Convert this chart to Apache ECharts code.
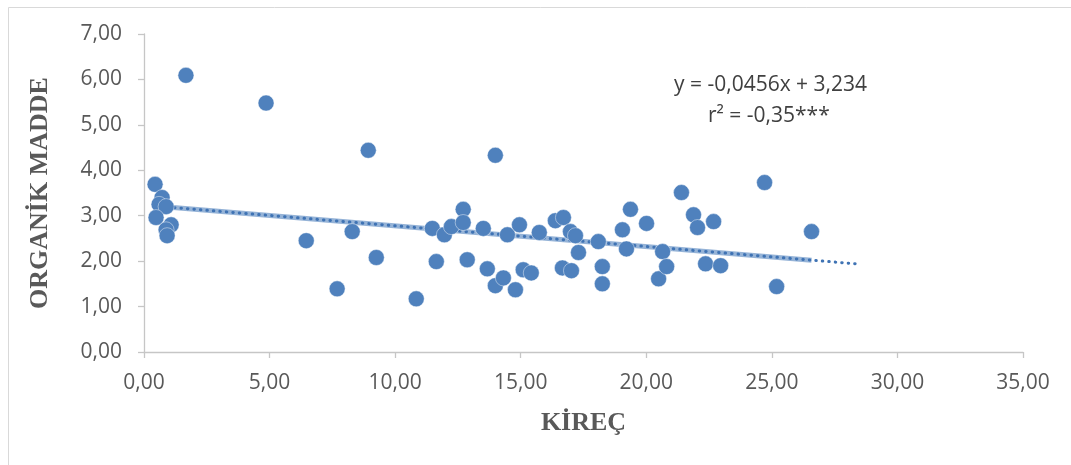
<!DOCTYPE html>
<html>
<head>
<meta charset="utf-8">
<script src="https://cdn.jsdelivr.net/npm/echarts@6/dist/echarts.min.js"></script>
<style>
html,body{margin:0;padding:0;background:#fff;}
#c{width:1071px;height:465px;}
</style>
</head>
<body>
<div id="c"></div>
<script>
// Data
const kirec = [1.67, 4.86, 8.93, 13.99, 0.44, 0.72, 0.60, 0.88, 0.48, 1.08, 0.88, 0.92,
  6.46, 8.29, 9.25, 7.69, 10.84, 11.48, 11.64, 11.96, 12.24, 12.71, 12.71, 12.87,
  13.51, 13.67, 13.99, 14.31, 14.47, 14.79, 14.95, 15.10, 15.42, 15.74, 16.38, 16.70,
  16.66, 16.98, 17.02, 17.18, 17.30, 18.09, 18.25, 18.25, 19.05, 19.21, 19.37, 20.01,
  20.49, 20.65, 20.81, 21.40, 21.88, 22.04, 22.36, 22.68, 22.96, 24.71, 25.19, 26.58];
const organikMadde = [6.09, 5.48, 4.44, 4.33, 3.69, 3.40, 3.25, 3.20, 2.96, 2.80, 2.69, 2.56,
  2.45, 2.65, 2.08, 1.39, 1.17, 2.72, 1.99, 2.58, 2.76, 3.14, 2.85, 2.03,
  2.72, 1.83, 1.46, 1.63, 2.58, 1.37, 2.80, 1.81, 1.74, 2.63, 2.89, 2.96,
  1.85, 2.65, 1.79, 2.56, 2.19, 2.43, 1.88, 1.50, 2.69, 2.27, 3.14, 2.83,
  1.61, 2.21, 1.88, 3.51, 3.02, 2.74, 1.94, 2.87, 1.90, 3.73, 1.44, 2.65];
const slope = -0.0456;
const intercept = 3.234;
const trendForwardTo = 28.5;
const xTicks = [0, 35, 5];
const yTicks = [0, 7, 1];
const equationText = 'y = -0,0456x + 3,234';
const r2Text = 'r² = -0,35***';
const xTitle = 'KİREÇ';
const yTitle = 'ORGANİK MADDE';

const points = kirec.map((x, i) => [x, organikMadde[i]]);
const xMin = Math.min(...kirec), xMax = Math.max(...kirec);
const trendSolid = [[xMin, slope * xMin + intercept], [xMax, slope * xMax + intercept]];
const trendDots = [[xMin, slope * xMin + intercept], [trendForwardTo, slope * trendForwardTo + intercept]];
const fmt = v => v.toFixed(2).replace('.', ',');

const chart = echarts.init(document.getElementById('c'), null, {renderer: 'canvas'});
const labelFont = '"Open Sans", sans-serif';
chart.setOption({
  animation: false,
  backgroundColor: '#fff',
  grid: {left: 144, right: 48, top: 34, bottom: 113, containLabel: false},
  xAxis: {
    type: 'value', min: xTicks[0], max: xTicks[1], interval: xTicks[2],
    splitLine: {show: false},
    axisLine: {show: true, lineStyle: {color: '#C6C6C6', width: 1.3}},
    axisTick: {show: true, inside: false, length: 6, lineStyle: {color: '#C6C6C6', width: 1.3}},
    axisLabel: {color: '#595959', fontFamily: labelFont, fontSize: 21, margin: 21, formatter: fmt},
    name: xTitle, nameLocation: 'middle', nameGap: 58,
    nameTextStyle: {color: '#595959', fontFamily: '"Liberation Serif", serif', fontWeight: 'bold', fontSize: 26}
  },
  yAxis: {
    type: 'value', min: yTicks[0], max: yTicks[1], interval: yTicks[2],
    splitLine: {show: false},
    axisLine: {show: true, lineStyle: {color: '#C6C6C6', width: 1.3}},
    axisTick: {show: true, inside: false, length: 6, lineStyle: {color: '#C6C6C6', width: 1.3}},
    axisLabel: {color: '#595959', fontFamily: labelFont, fontSize: 21, margin: 22, formatter: fmt},
    name: yTitle, nameLocation: 'middle', nameGap: 91, nameRotate: 90,
    nameTextStyle: {color: '#595959', fontFamily: '"Liberation Serif", serif', fontWeight: 'bold', fontSize: 26}
  },
  graphic: [
    {type: 'rect', shape: {x: 8.5, y: 7.5, width: 1200, height: 600}, style: {fill: 'none', stroke: '#D9D9D9', lineWidth: 1}, silent: true},
    {type: 'text', left: 674, top: 75, style: {text: equationText, fill: '#404040', font: '21px "Open Sans", sans-serif'}},
    {type: 'text', left: 708, top: 106, style: {text: r2Text, fill: '#404040', font: '21px "Open Sans", sans-serif'}}
  ],
  series: [
    {
      type: 'line', data: trendSolid, symbol: 'none', z: 1,
      lineStyle: {color: 'rgba(79,129,189,0.6)', width: 5}
    },
    {
      type: 'line', data: trendDots, symbol: 'none', z: 2,
      lineStyle: {color: '#3F73B4', width: 3, type: [0.5, 6], cap: 'round'}
    },
    {
      type: 'scatter', data: points, symbol: 'circle', symbolSize: 16, z: 3,
      itemStyle: {color: '#4F81BD', borderColor: 'rgba(255,255,255,0.55)', borderWidth: 0.8, opacity: 1}
    }
  ]
});
</script>
</body>
</html>
